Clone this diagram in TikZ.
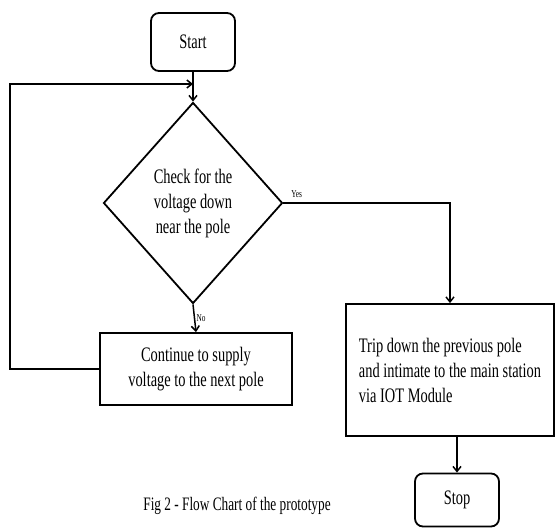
\documentclass[tikz,border=0pt]{standalone}
\usepackage{fontspec}
\setmainfont{Liberation Serif}[FakeStretch=0.7]
\usetikzlibrary{shapes.geometric, arrows.meta}

\begin{document}
\begin{tikzpicture}[x=1pt, y=-1pt,
  every node/.style={font=\fontsize{20.6}{25}\selectfont},
  term/.style={draw, line width=1.8pt, rounded corners=8pt, minimum width=84pt},
  proc/.style={draw, line width=1.8pt},
  dec/.style={draw, diamond, line width=1.8pt, inner sep=0pt, align=center, minimum width=179pt, minimum height=201pt},
  lbl/.style={font=\fontsize{10.5}{12}\selectfont},
  arr/.style={line width=1.5pt, -{Straight Barb[length=5pt,width=8pt]}},
  lne/.style={line width=1.5pt}]
\useasboundingbox (0,0) rectangle (556,529);

\node[term, minimum height=58pt] (start) at (193,42) {Start};
\coordinate (join) at (193,84);
\node[dec] (check) at (193,203) {Check for the\\voltage down\\near the pole};
\node[proc, minimum width=192pt, minimum height=72pt, align=center] (cont) at (196,369) {Continue to supply\\voltage to the next pole};
\node[proc, minimum width=208pt, minimum height=132pt, align=left] (trip) at (450,370) {Trip down the previous pole\\and intimate to the main station\\via IOT Module};
\node[term, minimum height=53pt] (stop) at (457,500) {Stop};
\node (cap) at (237,506) [font=\fontsize{19}{20}\selectfont] {Fig 2 - Flow Chart of the prototype};

\draw[arr] (start.south) -- (check.north);
\draw[arr] (cont.west) -- ++(-89,0) |- (join);
\draw[arr] (check.east) -| (trip.north) node[lbl, pos=0.04, above, yshift=1pt] {Yes};
\draw[arr] (check.south) -- (cont.north) node[lbl, midway, right, xshift=-2pt] {No};
\draw[arr] (trip.south -| stop.north) -- (stop.north);
\end{tikzpicture}
\end{document}
